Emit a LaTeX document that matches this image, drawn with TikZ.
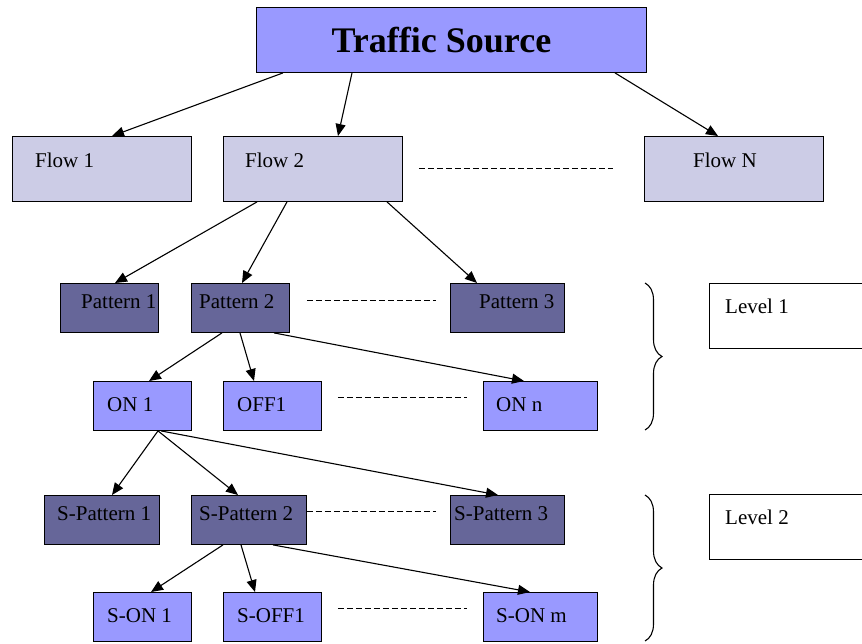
\documentclass[tikz,border=0pt]{standalone}
\usepackage{fontspec}
\setmainfont{Liberation Serif}
\usetikzlibrary{arrows.meta,calc,decorations.pathreplacing}
\definecolor{srcblue}{RGB}{153,153,255}
\definecolor{flowgray}{RGB}{204,204,230}
\definecolor{patpurple}{RGB}{102,102,153}

\begin{document}
\begin{tikzpicture}[
  x=1pt, y=-1pt,
  box/.style={
    draw=black,
    line width=.9pt,
    anchor=north west,
    inner sep=0pt
  },
  srcbox/.style={box,fill=srcblue,minimum width=390pt,minimum height=65pt},
  flowbox/.style={box,fill=flowgray,minimum width=179pt,minimum height=65pt},
  patbox/.style={box,fill=patpurple,minimum width=#1,minimum height=49pt},
  onbox/.style={box,fill=srcblue,minimum width=#1,minimum height=49pt},
  lvlbox/.style={box,fill=white,minimum width=170pt,minimum height=65pt},
  txt/.style={anchor=base west,inner sep=0pt,font=\fontsize{21}{24}\selectfont},
  arr/.style={-{Triangle[length=12pt,width=10pt]},line width=1.1pt},
  dots/.style={line width=1pt,dash pattern=on 6pt off 3pt},
  brc/.style={decorate,decoration={brace,amplitude=17pt},line width=1.1pt}
]
\clip (0,0) rectangle (862,643);

% top and flows
\node[srcbox] (ts) at (256,7) {};
\node[txt,anchor=base,font=\fontsize{36}{40}\selectfont\bfseries]
  (ts-t) at ($(ts.north)+(-10,45)$) {Traffic Source};
\node[flowbox] (fl1) at (12,136) {};
\node[flowbox] (fl2) at (223,136) {};
\node[flowbox] (flN) at (644,136) {};
\node[txt] (fl1-t) at ($(fl1.north west)+(23,31)$) {Flow 1};
\node[txt] (fl2-t) at ($(fl2.north west)+(22,31)$) {Flow 2};
\node[txt] (flN-t) at ($(flN.north west)+(49,31)$) {Flow N};

% level 1
\node[patbox=98pt] (pat1) at (60,283) {};
\node[patbox=98pt] (pat2) at (191,283) {};
\node[patbox=114pt] (pat3) at (450,283) {};
\node[txt] (pat1-t) at ($(pat1.north west)+(21,25)$) {Pattern 1};
\node[txt] (pat2-t) at ($(pat2.north west)+(8,25)$) {Pattern 2};
\node[txt] (pat3-t) at ($(pat3.north west)+(29,25)$) {Pattern 3};
\node[onbox=98pt] (on1) at (93,381) {};
\node[onbox=98pt] (off1) at (223,381) {};
\node[onbox=114pt] (onn) at (483,381) {};
\node[txt] (on1-t) at ($(on1.north west)+(14,30)$) {ON 1};
\node[txt] (off1-t) at ($(off1.north west)+(14,30)$) {OFF1};
\node[txt] (onn-t) at ($(onn.north west)+(13,30)$) {ON n};

% level 2
\node[patbox=115pt] (sp1) at (44,495) {};
\node[patbox=115pt] (sp2) at (191,495) {};
\node[patbox=114pt] (sp3) at (450,495) {};
\node[txt] (sp1-t) at ($(sp1.north west)+(13,25)$) {S-Pattern 1};
\node[txt] (sp2-t) at ($(sp2.north west)+(8,25)$) {S-Pattern 2};
\node[txt] (sp3-t) at ($(sp3.north west)+(4,25)$) {S-Pattern 3};
\node[onbox=98pt] (son1) at (93,592) {};
\node[onbox=98pt] (soff1) at (223,592) {};
\node[onbox=114pt] (sonm) at (483,592) {};
\node[txt] (son1-t) at ($(son1.north west)+(14,30)$) {S-ON 1};
\node[txt] (soff1-t) at ($(soff1.north west)+(14,30)$) {S-OFF1};
\node[txt] (sonm-t) at ($(sonm.north west)+(13,30)$) {S-ON m};

% level labels
\node[lvlbox] (lv1) at (709,283) {};
\node[lvlbox] (lv2) at (709,494) {};
\node[txt] (lv1-t) at ($(lv1.north west)+(16,30)$) {Level 1};
\node[txt] (lv2-t) at ($(lv2.north west)+(16,30)$) {Level 2};
\draw[brc] (645,283) -- (645,430);
\draw[brc] (645,495) -- (645,641);

\draw[arr] ($(ts.south west)+(27,0)$) -- ($(fl1.north west)+(100,0)$);
\draw[arr] ($(ts.south west)+(96,0)$) -- ($(fl2.north west)+(115,0)$);
\draw[arr] ($(ts.south west)+(359,0)$) -- ($(flN.north west)+(74,0)$);

\draw[arr] ($(fl2.south west)+(34,0)$) -- ($(pat1.north west)+(55,0)$);
\draw[arr] ($(fl2.south west)+(64,0)$) -- ($(pat2.north west)+(51,0)$);
\draw[arr] ($(fl2.south west)+(164,0)$) -- ($(pat3.north west)+(27,0)$);

\draw[arr] ($(pat2.south west)+(31,0)$) -- ($(on1.north west)+(56,0)$);
\draw[arr] ($(pat2.south west)+(49,0)$) -- ($(off1.north west)+(31,0)$);
\draw[arr] ($(pat2.south west)+(83,0)$) -- ($(onn.north west)+(41,0)$);

\draw[arr] ($(on1.south west)+(65,0)$) -- ($(sp1.north west)+(68,0)$);
\draw[arr] ($(on1.south west)+(65,0)$) -- ($(sp2.north west)+(47,0)$);
\draw[arr] ($(on1.south west)+(68,0)$) -- ($(sp3.north west)+(48,0)$);

\draw[arr] ($(sp2.south west)+(32,0)$) -- ($(son1.north west)+(58,0)$);
\draw[arr] ($(sp2.south west)+(50,0)$) -- ($(soff1.north west)+(32,0)$);
\draw[arr] ($(sp2.south west)+(82,0)$) -- ($(sonm.north west)+(47,0)$);

\draw[dots] ($(fl2.east)+(16,0)$) -- ($(flN.west)+(-31,0)$);
\draw[dots] ($(pat2.north east)+(17,17)$) -- ($(pat3.north west)+(-14,17)$);
\draw[dots] ($(off1.north east)+(16,16)$) -- ($(onn.north west)+(-16,16)$);
\draw[dots] ($(sp2.north east)+(0,16)$) -- ($(sp3.north west)+(-14,16)$);
\draw[dots] ($(soff1.north east)+(16,16)$) -- ($(sonm.north west)+(-16,16)$);
\end{tikzpicture}
\end{document}
